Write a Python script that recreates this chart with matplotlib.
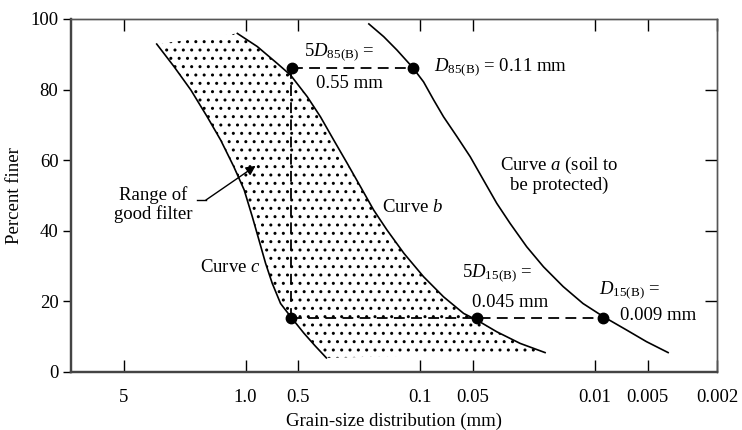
"""Filter design chart: grain-size curves a, b, c with the good-filter band"""
from matplotlib import pyplot as plt

# curve a (soil to be protected): grain size (mm), percent finer
curve_a_d = [0.197, 0.162, 0.136, 0.1107, 0.0958, 0.0839, 0.0736, 0.0617, 0.0518, 0.0435,
             0.0365, 0.0306, 0.0246, 0.0197, 0.0152, 0.0117, 0.00896, 0.00659, 0.00507, 0.00381]
curve_a_pct = [98.6, 95.0, 91.2, 86.3, 82.2, 77.1, 72.3, 66.7, 61.0, 54.4,
               47.8, 42.1, 35.5, 29.8, 24.2, 19.4, 15.7, 11.9, 8.6, 5.5]

# curve b (fine limit of the filter band)
curve_b_d = [1.115, 0.858, 0.659, 0.553, 0.444, 0.373, 0.313, 0.262, 0.220, 0.185,
             0.155, 0.124, 0.0958, 0.0736, 0.0565, 0.0474, 0.0365, 0.0268, 0.0193]
curve_b_pct = [95.9, 92.2, 87.4, 84.1, 78.0, 72.3, 65.7, 59.1, 52.5, 45.9,
               40.2, 33.6, 27.0, 21.3, 16.6, 14.7, 11.4, 8.1, 5.5]

# curve c (coarse limit of the filter band)
curve_c_d = [3.23, 2.57, 2.06, 1.66, 1.39, 1.17, 1.02, 0.916, 0.839, 0.769,
             0.704, 0.631, 0.553, 0.464, 0.40, 0.345]
curve_c_pct = [92.9, 86.5, 79.9, 72.3, 65.7, 58.2, 51.6, 44.0, 37.4, 30.8,
               25.1, 19.4, 15.7, 11.0, 7.4, 4.0]

# marked points: 5D85, D85, curve c at 15 %, 5D15, D15
point_d = [0.545, 0.1107, 0.553, 0.0474, 0.00896]
point_pct = [86, 86, 15.3, 15.3, 15.3]

x_ticks = [5, 1.0, 0.5, 0.1, 0.05, 0.01, 0.005, 0.002]
x_tick_labels = ['5', '1.0', '0.5', '0.1', '0.05', '0.01', '0.005', '0.002']
y_ticks = [0, 20, 40, 60, 80, 100]

plt.rcParams['font.family'] = ['Liberation Serif', 'DejaVu Serif']
plt.rcParams['mathtext.fontset'] = 'custom'
plt.rcParams['mathtext.rm'] = 'Liberation Serif'
plt.rcParams['mathtext.it'] = 'Liberation Serif:italic'
plt.rcParams['hatch.linewidth'] = 1.0

fig = plt.figure(figsize=(7.42, 4.30), dpi=100)
ax = fig.add_axes([71 / 742, 1 - 372 / 430, 646 / 742, 353 / 430])

ax.set_xscale('log')
ax.set_xlim(10, 0.002)
ax.set_ylim(0, 100)

# stippled band between curve c and curve b
band_x = list(curve_c_d) + list(curve_b_d[::-1])
band_y = list(curve_c_pct) + list(curve_b_pct[::-1])
ax.fill(band_x, band_y, facecolor='none', edgecolor='black', hatch='..', linewidth=0)

for d, pct in [(curve_a_d, curve_a_pct), (curve_b_d, curve_b_pct), (curve_c_d, curve_c_pct)]:
    ax.plot(d, pct, color='black', lw=1.2, solid_joinstyle='round')

# construction lines
dash = dict(color='black', lw=1.3, dashes=(6, 3.5))
ax.plot([point_d[0], point_d[1]], [point_pct[0], point_pct[1]], **dash)
ax.plot([0.55, 0.55], [point_pct[0], point_pct[2]], **dash)
ax.plot([point_d[2], point_d[4]], [point_pct[2], point_pct[4]], **dash)

ax.plot(point_d, point_pct, 'o', color='black', ms=7.5, zorder=5)

fs = 13.5
ax.text(0.466, 90.7, r'5$D_{\mathrm{85(B)}}$ =', fontsize=fs, va='center')
ax.text(0.398, 81.8, '0.55 mm', fontsize=fs, va='center')
ax.text(0.084, 86.4, r'$D_{\mathrm{85(B)}}$ = 0.11 mm', fontsize=fs, va='center')
ax.text(0.0161, 56, 'Curve $a$ (soil to\nbe protected)', fontsize=fs,
        ha='center', va='center', linespacing=1.1)
ax.text(0.165, 46.7, 'Curve $b$', fontsize=fs, va='center')
ax.text(1.83, 29.7, 'Curve $c$', fontsize=fs, va='center')
ax.text(0.0575, 28, r'5$D_{\mathrm{15(B)}}$ =', fontsize=fs, va='center')
ax.text(0.0504, 19.6, '0.045 mm', fontsize=fs, va='center')
ax.text(0.0095, 23.2, r'$D_{\mathrm{15(B)}}$ =', fontsize=fs, va='center')
ax.text(0.0072, 15.9, '0.009 mm', fontsize=fs, va='center')
ax.text(3.4, 47.5, 'Range of\ngood filter', fontsize=fs, ha='center', va='center',
        linespacing=1.1)

# pointer from the label into the band
ax.plot([1.905, 1.69], [48.7, 48.7], color='black', lw=1.0)
ax.annotate('', xy=(0.877, 58.4), xytext=(1.69, 48.7),
            arrowprops=dict(arrowstyle='-|>', color='black', lw=1.0,
                            mutation_scale=14, shrinkA=0, shrinkB=0))

ax.set_xticks(x_ticks)
ax.set_xticklabels(x_tick_labels)
ax.xaxis.set_minor_locator(plt.NullLocator())
ax.set_yticks(y_ticks)

ax.tick_params(axis='x', which='major', direction='in', length=8.5, width=1.0,
               top=True, labelsize=13.5, pad=12)
ax.tick_params(axis='y', which='major', direction='out', length=6, width=1.0,
               labelsize=13.5, pad=3)

# right side has inward ticks without labels
ax_r = ax.twinx()
ax_r.set_ylim(0, 100)
ax_r.set_yticks([20, 40, 60, 80])
ax_r.tick_params(axis='y', direction='in', length=8.5, width=1.0, labelright=False)

for a in (ax, ax_r):
    for side in ('left', 'bottom'):
        a.spines[side].set_linewidth(1.6)
        a.spines[side].set_color('#444444')
    for side in ('top', 'right'):
        a.spines[side].set_linewidth(1.0)
        a.spines[side].set_color('#555555')

ax.set_xlabel('Grain-size distribution (mm)', fontsize=13.5, labelpad=5)
ax.set_ylabel('Percent finer', fontsize=13.5, labelpad=5)

plt.savefig('out.png', dpi=100)
